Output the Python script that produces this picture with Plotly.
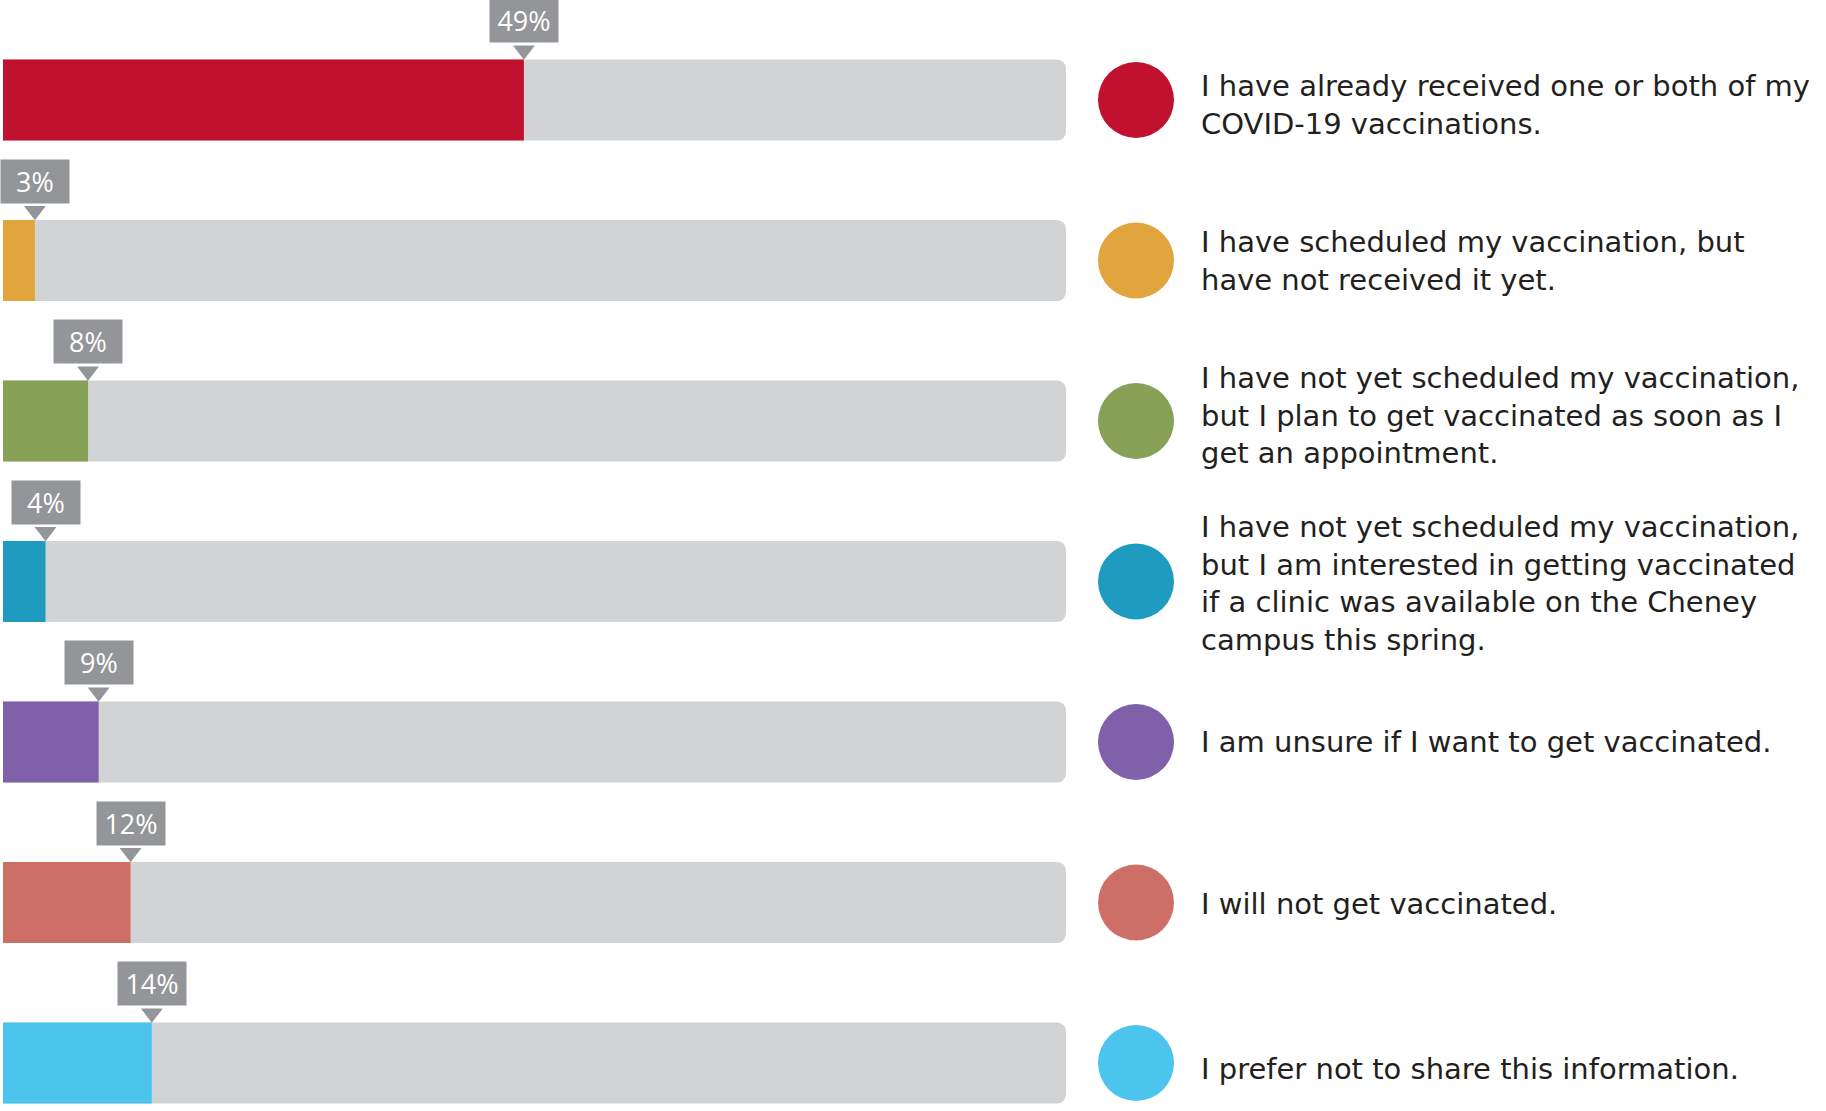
import plotly.graph_objects as go

# survey answers, top to bottom
answers = [
    "I have already received one or both of my<br>COVID-19 vaccinations.",
    "I have scheduled my vaccination, but<br>have not received it yet.",
    "I have not yet scheduled my vaccination,<br>but I plan to get vaccinated as soon as I<br>get an appointment.",
    "I have not yet scheduled my vaccination,<br>but I am interested in getting vaccinated<br>if a clinic was available on the Cheney<br>campus this spring.",
    "I am unsure if I want to get vaccinated.",
    "I will not get vaccinated.",
    "I prefer not to share this information.",
]
percents = [49, 3, 8, 4, 9, 12, 14]
colors = ["#c0112f", "#e2a43c", "#87a156", "#1f9bc0", "#8060a8", "#cd6f66", "#4cc5ee"]

W, H = 1826, 1111
rows = list(range(len(percents)))
track = "#d1d3d4"
tag = "#939598"
# small vertical nudges (px) of the answer text, as laid out in the original
text_nudge = [-5, 0, 6, -2, 0, -1, -6]

fig = go.Figure()

# gray track behind every bar
fig.add_trace(go.Bar(
    x=[100] * len(rows), y=rows, orientation='h',
    marker=dict(color=track, cornerradius=9, line=dict(width=0)),
    width=0.505, hoverinfo='skip', showlegend=False))

# coloured share
fig.add_trace(go.Bar(
    x=percents, y=rows, orientation='h',
    marker=dict(color=colors, cornerradius=10, line=dict(width=0)),
    width=0.505, hoverinfo='skip', showlegend=False))

# small notch under each tag
fig.add_trace(go.Scatter(
    x=percents, y=[r - 0.31 for r in rows], mode='markers',
    marker=dict(symbol='triangle-down', size=19, color=tag, line=dict(width=0)),
    hoverinfo='skip', showlegend=False))

# legend circles
fig.add_trace(go.Scatter(
    x=[0.5] * len(rows), y=rows, mode='markers', xaxis='x2',
    marker=dict(size=76, color=colors, line=dict(width=0)),
    hoverinfo='skip', showlegend=False))

annotations = []
for r, p in zip(rows, percents):
    annotations.append(dict(
        x=p, y=r, xref='x', yref='y', text=f"{p}%",
        showarrow=False, xanchor='center', yanchor='bottom', yshift=57,
        bgcolor=tag, width=68, height=43, borderpad=0,
        font=dict(family="Open Sans", size=27, color="white")))
    annotations.append(dict(
        x=1199 / W, y=r, xref='paper', yref='y', text=answers[r],
        showarrow=False, xanchor='left', yanchor='middle', align='left',
        yshift=text_nudge[r],
        font=dict(family="DejaVu Sans", size=29, color="#231f20")))

fig.update_layout(
    width=W, height=H,
    margin=dict(l=0, r=0, t=0, b=0),
    paper_bgcolor='white', plot_bgcolor='white',
    barmode='overlay',
    xaxis=dict(domain=[3 / W, 1066 / W], range=[0, 100], visible=False, fixedrange=True),
    xaxis2=dict(domain=[1098 / W, 1174 / W], range=[0, 1], visible=False, anchor='y'),
    yaxis=dict(range=[6.299, -0.623], visible=False),
    annotations=annotations,
)

fig.write_html("out.html", config={'displayModeBar': False},
               post_script="document.body.style.margin='0';")
